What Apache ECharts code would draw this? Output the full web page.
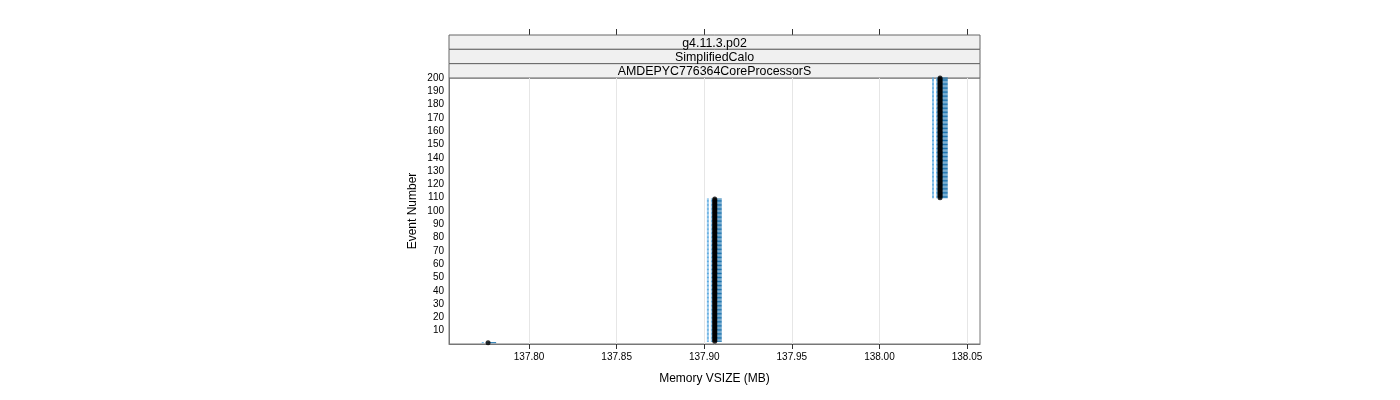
<!DOCTYPE html>
<html style="height: 100%;">
<head>
<meta charset="utf-8">
<title>Memory VSIZE</title>
<script src="https://cdn.jsdelivr.net/npm/echarts@6/dist/echarts.min.js"></script>
<style>
    html, body { margin: 0; height: 100%; background: #fff; }
    #container { width: 1400px; height: 400px; }
</style>
</head>
<body>
<div id="container"></div>
<script>
// groups of consecutive events sharing one VSIZE reading
var firstEvent = [1, 2, 110];
var lastEvent  = [1, 109, 200];
var vsize      = [137.7766, 137.9060, 138.0346];
var vsizeLow   = [137.7730, 137.9015, 138.0300];
var vsizeHigh  = [137.7812, 137.9100, 138.0390];

var xTicks  = [137.80, 137.85, 137.90, 137.95, 138.00, 138.05];
var strips  = ['g4.11.3.p02', 'SimplifiedCalo', 'AMDEPYC776364CoreProcessorS'];

// one row per event, built from the groups above
var rows = [], pts = [];
for (var g = 0; g < firstEvent.length; g++) {
    for (var e = firstEvent[g]; e <= lastEvent[g]; e++) {
        rows.push([e, vsizeLow[g], vsize[g], vsizeHigh[g]]);
        pts.push([vsize[g], e]);
    }
}

var font = '"Liberation Sans", Arial, sans-serif';
var L = 449, R = 980, T = 78, B = 344;

// strip boxes first, then their labels so descenders are not covered
var graphics = [];
var sh = (T - 35) / 3;
for (var i = 0; i < strips.length; i++) {
    graphics.push({
        type: 'rect', silent: true, z: 1,
        shape: { x: L, y: 35 + i * sh, width: R - L, height: sh },
        style: { fill: '#f0f0f0', stroke: '#666', lineWidth: 1 }
    });
}
for (var j = 0; j < strips.length; j++) {
    graphics.push({
        type: 'text', silent: true, z: 2,
        x: (L + R) / 2, y: 35 + j * sh + sh / 2 + 1,
        style: { text: strips[j], fontFamily: font, fontSize: 12.4, fill: '#000',
                 align: 'center', verticalAlign: 'middle' }
    });
}

var chart = echarts.init(document.getElementById('container'));
chart.setOption({
    animation: false,
    textStyle: { fontFamily: font },
    grid: { left: L, right: 1400 - R, top: T, bottom: 400 - B,
            show: true, borderColor: '#777', borderWidth: 1, backgroundColor: 'transparent' },
    graphic: graphics,
    xAxis: [{
        type: 'value', min: 137.7543, max: 138.0574, position: 'bottom',
        name: 'Memory VSIZE (MB)', nameLocation: 'middle', nameGap: 29,
        nameTextStyle: { fontFamily: font, fontSize: 12, color: '#000' },
        axisLine: { show: true, lineStyle: { color: '#777' } },
        axisTick: { show: true, length: 5, customValues: xTicks, lineStyle: { color: '#333' } },
        axisLabel: { customValues: xTicks, fontSize: 10, color: '#000', margin: 8,
                     formatter: function (v) { return v.toFixed(2); } },
        splitLine: { show: false }
    }, {
        type: 'value', min: 137.7543, max: 138.0574, position: 'top', offset: T - 35,
        axisLine: { show: false },
        axisTick: { show: true, length: 6, customValues: xTicks, lineStyle: { color: '#333' } },
        axisLabel: { show: false },
        splitLine: { show: false }
    }],
    yAxis: {
        type: 'value', min: 0, max: 200, interval: 10,
        name: 'Event Number', nameLocation: 'middle', nameGap: 30, nameRotate: 90,
        nameTextStyle: { fontFamily: font, fontSize: 12, color: '#000' },
        axisLine: { show: true, lineStyle: { color: '#777' } },
        axisTick: { show: false },
        axisLabel: { showMinLabel: false, fontSize: 10, color: '#000', margin: 5 },
        splitLine: { show: false }
    },
    series: [{
        type: 'custom',
        silent: true,
        data: rows,
        encode: { x: [1, 2, 3], y: 0 },
        renderItem: function (params, api) {
            var y = api.value(0);
            var a = api.coord([api.value(1), y]);
            var m = api.coord([api.value(2), y]);
            var b = api.coord([api.value(3), y]);
            return {
                type: 'group',
                children: [{
                    type: 'line',
                    shape: { x1: a[0], y1: a[1], x2: m[0], y2: m[1] },
                    style: { stroke: '#5aa9e0', lineWidth: 1, lineDash: [2, 2] }
                }, {
                    type: 'line',
                    shape: { x1: m[0], y1: m[1], x2: b[0], y2: b[1] },
                    style: { stroke: '#1670ad', lineWidth: 1 }
                }]
            };
        },
        markLine: {
            silent: true, symbol: 'none', label: { show: false },
            lineStyle: { color: '#e6e6e6', type: 'solid', width: 1 },
            data: xTicks.map(function (v) { return { xAxis: v }; })
        },
        z: 2
    }, {
        type: 'scatter',
        silent: true,
        data: pts,
        symbol: 'circle',
        symbolSize: 5,
        itemStyle: { color: '#000' },
        z: 3
    }]
});
</script>
</body>
</html>
